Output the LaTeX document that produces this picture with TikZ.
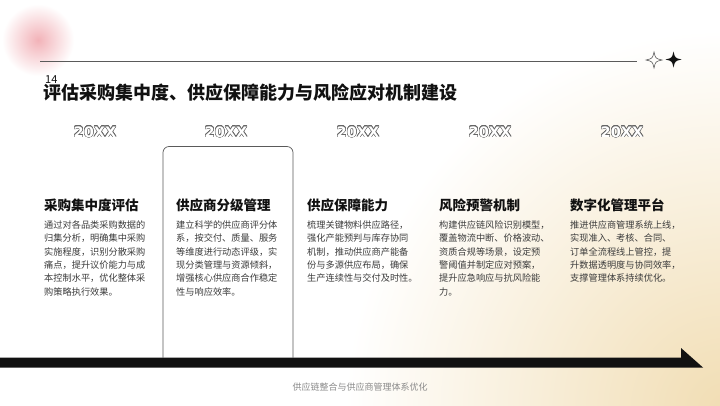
\documentclass[tikz,border=0pt]{standalone}
\usepackage{fontspec}
\setmainfont{Noto Sans CJK SC}
\newfontfamily\yrfont{DejaVu Sans}
\usepackage{xcolor}
\usepackage{tikz}
\usepackage{contour}
\contourlength{0.45pt}
\definecolor{ink}{HTML}{111111}
\definecolor{copy}{HTML}{3C3C3C}
\definecolor{rule}{HTML}{5A5A5A}
\definecolor{muted}{HTML}{8A8A8A}
\definecolor{outl}{HTML}{666666}
\definecolor{blush}{HTML}{F2B2B8}
\definecolor{cream}{HTML}{F1DDB3}
\tikzset{
  yr/.style={inner sep=0pt, font=\yrfont\bfseries\fontsize{14.5}{14.5}\selectfont},
  head/.style={anchor=west, inner sep=0pt, text=ink, font=\bfseries\fontsize{13.5}{14}\selectfont},
  txt/.style={anchor=north west, inner sep=0pt, align=left, text=copy, font=\fontsize{9.2}{13.3}\selectfont},
  card/.style={draw=rule, line width=0.7pt, rounded corners=6pt},
  topline/.style={draw=rule, line width=0.8pt},
  footnote/.style={text=muted, font=\fontsize{9}{9}\selectfont}
}
\newcommand{\sparkle}[2]{(#1,#2-8) .. controls (#1+1.5,#2-1.5) .. (#1+8,#2)
  .. controls (#1+1.5,#2+1.5) .. (#1,#2+8) .. controls (#1-1.5,#2+1.5) .. (#1-8,#2)
  .. controls (#1-1.5,#2-1.5) .. (#1,#2-8) -- cycle}
\newcommand{\yrtext}{\contour{outl}{\textcolor{white}{20XX}}}

\begin{document}
\begin{tikzpicture}[x=1pt, y=-1pt]
  \useasboundingbox (0,0) rectangle (720,405);
  \fill[white] (0,0) rectangle (720,405);

  % warm glow, bottom right
  \begin{scope}
    \clip (0,0) rectangle (720,405);
    \shade[inner color=cream, outer color=white] (725,410) circle (380);
    \shade[inner color=blush, outer color=white] (38,40) circle (36);
  \end{scope}

  \draw[topline] (40,61) -- (637,61);
  \draw[rule, line width=0.6pt] \sparkle{654}{60};
  \fill[ink] \sparkle{673.5}{59.5};

  \node[anchor=base west, inner sep=0pt, text=ink, font=\fontsize{11}{11}\selectfont] (num) at (45,83) {14};
  \node[anchor=base west, inner sep=0pt, text=ink, font=\bfseries\fontsize{18}{18}\selectfont] (title) at (43,99)
    {评估采购集中度、供应保障能力与风险应对机制建设};

  \node[yr] (y1) at (95,132) {\yrtext};
  \node[yr] (y2) at (226,132) {\yrtext};
  \node[yr] (y3) at (358,132) {\yrtext};
  \node[yr] (y4) at (490,132) {\yrtext};
  \node[yr] (y5) at (622,132) {\yrtext};

  % highlighted card
  \draw[card] (163,357.5) -- (163,146.5) -- (293,146.5) -- (293,357.5);

  \node[head] (h1) at (44,205) {采购集中度评估};
  \node[head] (h2) at (176,205) {供应商分级管理};
  \node[head] (h3) at (307,205) {供应保障能力};
  \node[head] (h4) at (439,205) {风险预警机制};
  \node[head] (h5) at (570,205) {数字化管理平台};

  \node[txt] (b1) at (44,220.5) {通过对各品类采购数据的\\归集分析，明确集中采购\\实施程度，识别分散采购\\痛点，提升议价能力与成\\本控制水平，优化整体采\\购策略执行效果。};
  \node[txt] (b2) at (176,220.5) {建立科学的供应商评分体\\系，按交付、质量、服务\\等维度进行动态评级，实\\现分类管理与资源倾斜，\\增强核心供应商合作稳定\\性与响应效率。};
  \node[txt] (b3) at (307,220.5) {梳理关键物料供应路径，\\强化产能预判与库存协同\\机制，推动供应商产能备\\份与多源供应布局，确保\\生产连续性与交付及时性。};
  \node[txt] (b4) at (439,220.5) {构建供应链风险识别模型，\\覆盖物流中断、价格波动、\\资质合规等场景，设定预\\警阈值并制定应对预案，\\提升应急响应与抗风险能\\力。};
  \node[txt] (b5) at (570,220.5) {推进供应商管理系统上线，\\实现准入、考核、合同、\\订单全流程线上管控，提\\升数据透明度与协同效率，\\支撑管理体系持续优化。};

  % timeline bar
  \fill[ink] (0,357.5) -- (681,357.5) -- (681,348) -- (703,367.5) -- (0,367.5) -- cycle;

  \node[footnote] (foot) at (360,387) {供应链整合与供应商管理体系优化};
\end{tikzpicture}
\end{document}
